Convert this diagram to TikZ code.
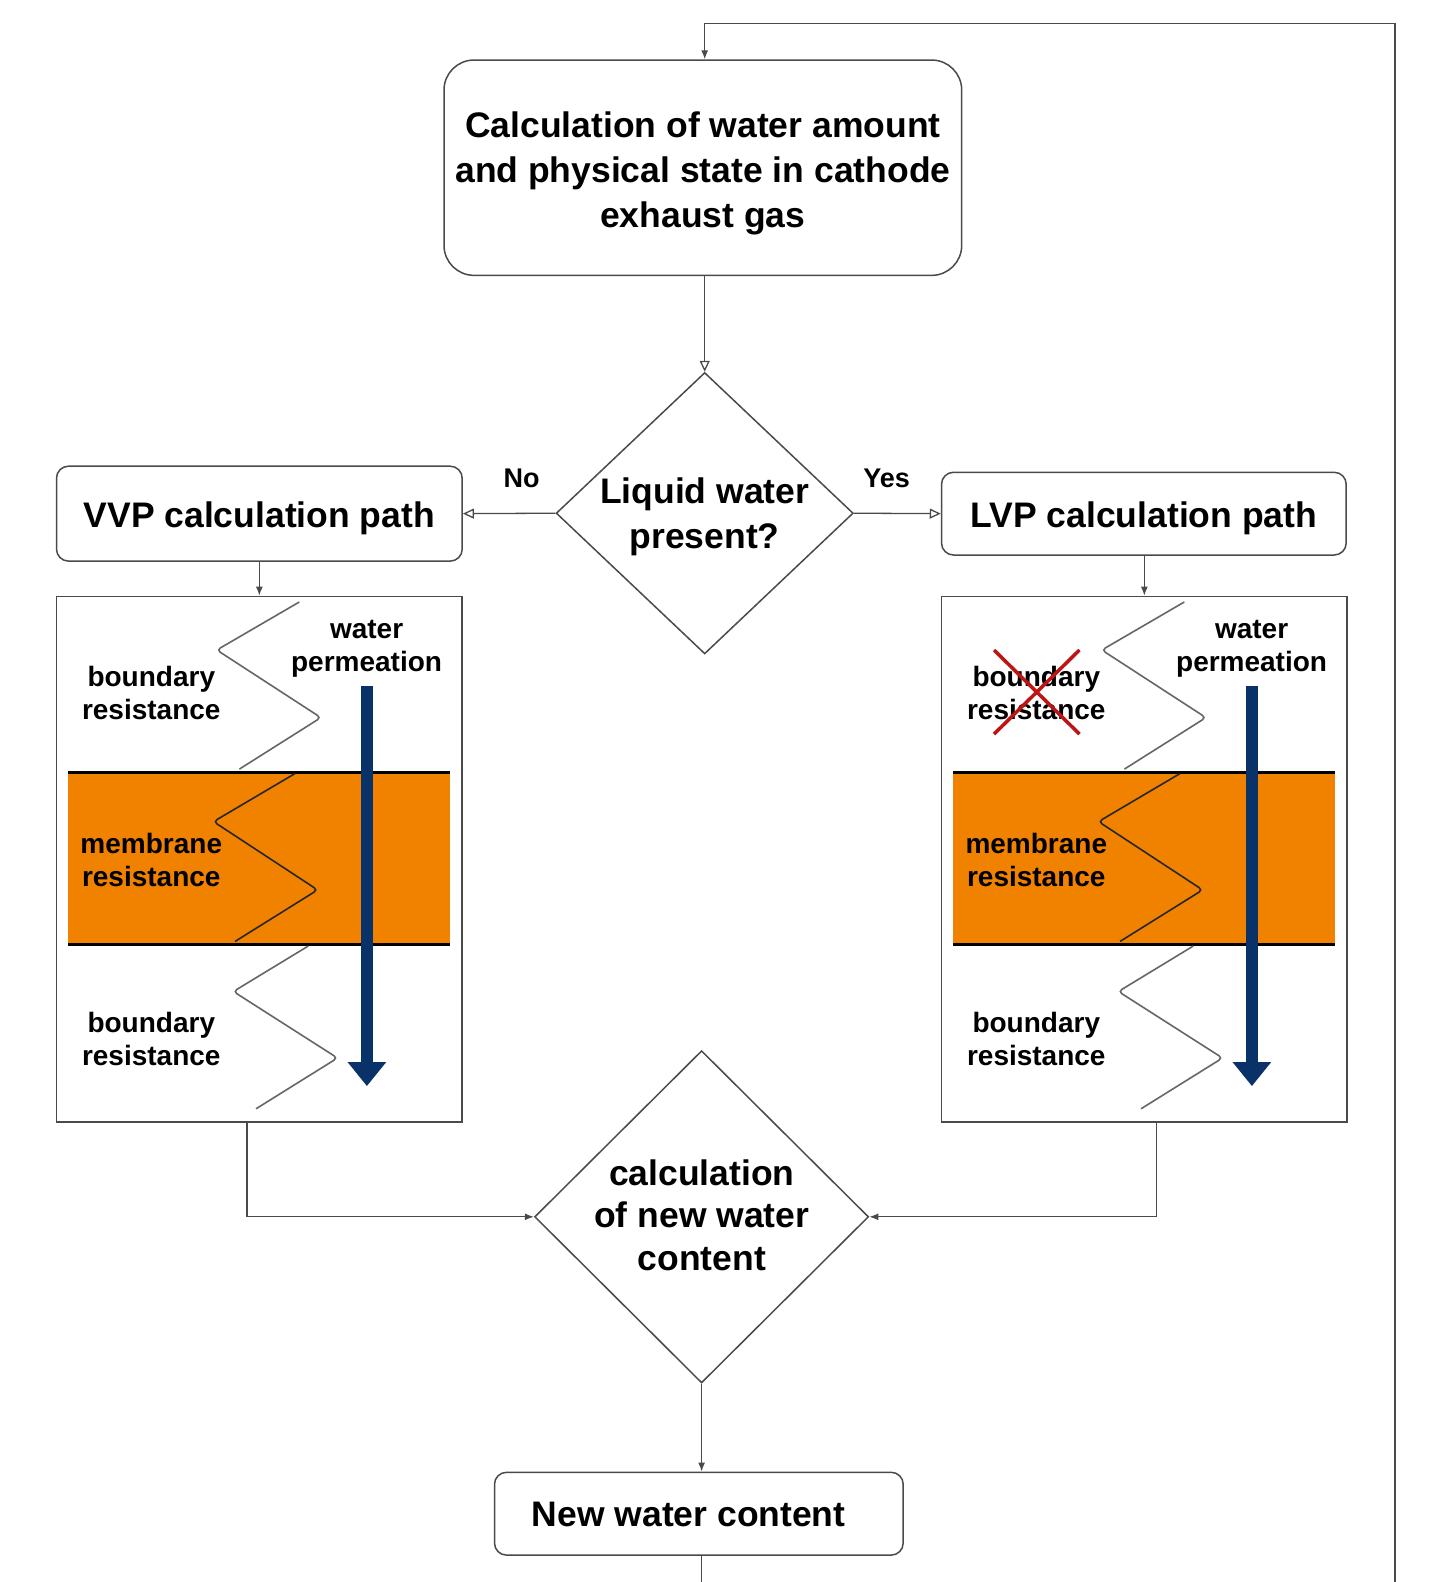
\documentclass[tikz,border=0pt]{standalone}
\usepackage{fontspec}
\setmainfont{Liberation Sans}
\usetikzlibrary{arrows.meta,shapes.geometric}
\definecolor{lc}{HTML}{4A4A4A}
\definecolor{memor}{RGB}{240,130,0}
\definecolor{navy}{RGB}{8,50,104}
\definecolor{xred}{RGB}{190,20,20}
\tikzset{
 box/.style={draw=lc, line width=1.5pt, fill=white, inner sep=0pt},
 rbox/.style={box, rounded corners=12pt},
 dia/.style={draw=lc, line width=1.5pt, shape=diamond, inner sep=0pt},
 big/.style={font=\fontsize{35.5pt}{45pt}\selectfont\bfseries, align=center, inner sep=0pt},
 small/.style={font=\fontsize{28pt}{33.2pt}\selectfont\bfseries, align=center, inner sep=0pt},
 lbl/.style={font=\fontsize{27pt}{30pt}\selectfont\bfseries, inner sep=0pt},
 conn/.style={draw=lc, line width=1.3pt},
 arr/.style={conn, -{Latex[length=9pt,width=7pt]}},
 oarr/.style={conn, -{Triangle[open,length=11pt,width=10pt]}},
 zig/.style={draw=black!60, line width=1.6pt, rounded corners=4pt},
 zigm/.style={draw=black!85, line width=1.6pt, rounded corners=4pt},
 perm/.style={draw=navy, line width=12.3pt, -{Triangle[length=24pt,width=37pt]}},
 cross/.style={draw=xred, line width=3.5pt},
}
\newcommand\drawpanel[2]{%
\begin{scope}[xshift=#1pt]
 \fill[memor] (68.1,772) rectangle (450.2,944.3);
 \draw[line width=3pt] (68.1,772) -- (450.2,772);
 \draw[line width=3pt] (68.1,944.3) -- (450.2,944.3);
 \draw[zig] (299.3,602) -- (216.8,650) -- (320.9,717.6) -- (239.4,769.1);
 \draw[zigm] (294.9,773.6) -- (213.5,821.6) -- (317.6,889.9) -- (235.1,941.4);
 \draw[zig] (308.3,946) -- (233.4,991.5) -- (337.5,1058) -- (256,1108.8);
 \coordinate (pa#2) at (366.9,686.1);
 \coordinate (pb#2) at (366.9,1086.1);
 \draw[perm] (pa#2) -- (pb#2);
 \node[small] (wp#2) at (366.6,648.5) {water\\permeation};
 \node[small] (br#2) at (151.3,693) {boundary\\resistance};
 \node[small] (mr#2) at (151.3,859.8) {membrane\\resistance};
 \node[small] (lr#2) at (151.3,1039.3) {boundary\\resistance};
\end{scope}}
\begin{document}
\begin{tikzpicture}[x=1pt,y=-1pt]
\useasboundingbox (0,0) rectangle (1434,1582);
\fill[white] (0,0) rectangle (1434,1582);

% main boxes
\node[box, rounded corners=30pt, minimum width=517.7pt, minimum height=215.3pt] (top) at (702.85,167.7) {};
\node[big] (topt) at (702.85,172.9) {Calculation of water amount\\and physical state in cathode\\exhaust gas};
\node[dia, minimum width=297.1pt, minimum height=281.4pt] (d1) at (704.7,513.2) {};
\node[big] (d1t) at (704.7,516.4) {Liquid water\\present?};
\node[rbox, minimum width=405.7pt, minimum height=94.9pt] (vvp) at (259.35,513.65) {};
\node[big] (vvpt) at (259.35,518) {VVP calculation path};
\node[rbox, minimum width=404.7pt, minimum height=82.7pt] (lvp) at (1143.85,513.65) {};
\node[big] (lvpt) at (1143.85,518) {LVP calculation path};
\node[lbl] (no) at (521.7,478.3) {No};
\node[lbl] (yes) at (886.7,478.3) {Yes};

% panels
\node[box, minimum width=405.7pt, minimum height=525.8pt] (lp) at (259.35,859.3) {};
\node[box, minimum width=405.7pt, minimum height=525.8pt] (rp) at (1144.35,859.3) {};
\drawpanel{0}{L}
\drawpanel{885}{R}
\draw[cross] (994,650) -- (1079.5,734.1);
\draw[cross] (1079.5,650) -- (994,734.1);

% lower part
\node[dia, minimum width=334pt, minimum height=332.3pt] (d2) at (701.6,1216.8) {};
\node[big, font=\fontsize{35.5pt}{42.5pt}\selectfont\bfseries] (d2t) at (701.8,1215) {calculation\\of new water\\content};
\node[rbox, minimum width=408.7pt, minimum height=82.8pt] (nwc) at (698.85,1513.7) {};
\node[big] (nwct) at (688.7,1514) {New water content};

% connectors
\coordinate (bot) at (701.6,1582);
\coordinate (lbot) at (1395,1582);
\coordinate (ltop) at (1395,23.3);
\draw[oarr] (d1.north |- top.south) -- (d1.north);
\draw[oarr] (d1.west) -- (vvp.east);
\draw[oarr] (d1.east) -- (lvp.west);
\draw[arr] (vvp.south) -- (lp.north);
\draw[arr] (lvp.south -| rp.north) -- (rp.north);
\draw[arr] ([xshift=-12.4pt]lp.south) |- (d2.west);
\draw[arr] ([xshift=12pt]rp.south) |- (d2.east);
\draw[arr] (d2.south) -- (d2.south |- nwc.north);
\draw[conn] (bot |- nwc.south) -- (bot);
\draw[arr] (lbot) -- (ltop) -| (d1.north |- top.north);
\end{tikzpicture}
\end{document}
